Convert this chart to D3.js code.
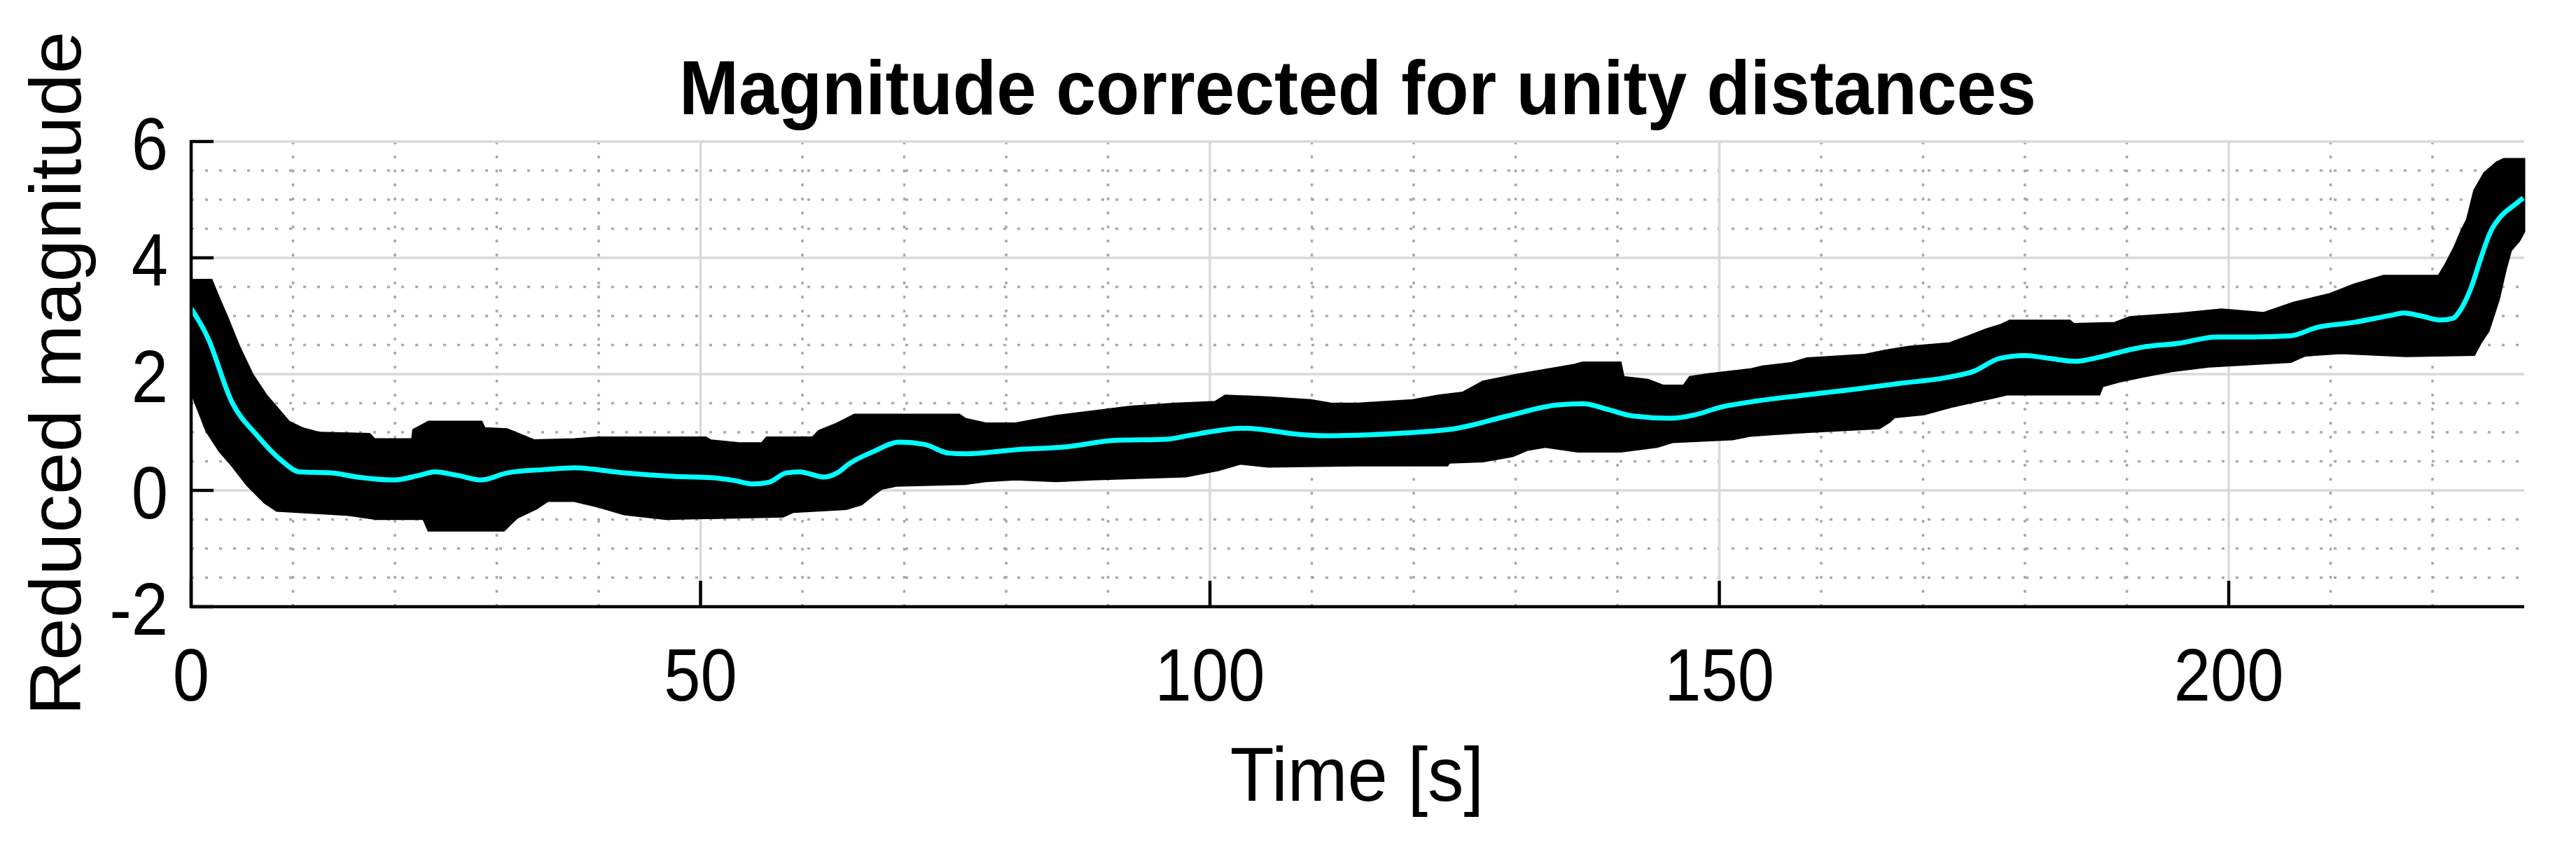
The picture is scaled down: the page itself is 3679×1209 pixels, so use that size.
<!DOCTYPE html>
<html lang="en">
  <head>
    <meta charset="UTF-8" />
    <title>Magnitude corrected for unity distances</title>
    <style>
      body { margin: 0; background: #fff; }
      svg { display: block; }
      text { font-family: "Liberation Sans", Arial, sans-serif; fill: #000; }
    </style>
  </head>
  <body>
    <svg width="3679" height="1209"></svg>
    <script src="https://d3js.org/d3.v7.min.js"></script>
    <script>
      // tick values
      const timeTicks = [0, 50, 100, 150, 200];
      const magTicks = [-2, 0, 2, 4, 6];

      // upper edge of the error bars (time [s], magnitude)
      const upperT = [0, 2.0, 2.8, 3.5, 4.7, 6.0, 7.4, 9.6, 10.9, 12.6, 17.5, 18, 21.7, 21.8, 23.3, 28.5, 28.8, 31, 33.7, 37.6,
        40, 50.5, 51, 53.8, 56, 56.5, 61, 61.6, 63.4, 65.1, 75.4, 76, 78, 80.9, 84.9, 88.5, 92.2, 96.6, 100.5, 101.5,
        105.7, 109.9, 111.9, 114.5, 119.9, 122.4, 124.8, 126.8, 130.2, 132.2, 135.8, 136.6, 140.3, 140.6, 143, 144.5, 146.5, 147.1, 149, 153,
        154.2, 157.1, 158.6, 164.2, 166.2, 168.6, 172.6, 174.3, 176.2, 177.7, 178.5, 184.4, 184.8, 188.8, 190.3, 195.1, 199.3, 203.4, 206.4, 208.1,
        209.8, 212.3, 215.2, 220.6, 221.2, 222.2, 222.8, 223.4, 224.1, 225.1, 226.3, 227.0, 229];
      const upperY = [3.62, 3.62, 3.28, 3.0, 2.48, 2.0, 1.63, 1.18, 1.07, 0.99, 0.97, 0.88, 0.88, 1.04, 1.18, 1.18, 1.07, 1.05, 0.86, 0.88,
        0.91, 0.91, 0.86, 0.81, 0.81, 0.91, 0.91, 1.02, 1.15, 1.30, 1.30, 1.23, 1.15, 1.15, 1.28, 1.36, 1.44, 1.49, 1.52, 1.63,
        1.60, 1.55, 1.49, 1.49, 1.55, 1.63, 1.68, 1.87, 1.99, 2.05, 2.16, 2.20, 2.20, 1.95, 1.90, 1.80, 1.80, 1.95, 2.0, 2.08,
        2.13, 2.19, 2.27, 2.33, 2.40, 2.47, 2.53, 2.64, 2.77, 2.85, 2.92, 2.92, 2.86, 2.88, 2.98, 3.04, 3.11, 3.05, 3.23, 3.30,
        3.37, 3.54, 3.69, 3.69, 3.86, 4.2, 4.45, 4.66, 5.16, 5.46, 5.64, 5.70, 5.70];

      // lower edge of the error bars
      const lowerT = [0, 0.2, 1.5, 2.8, 4.0, 5.5, 7.2, 8.4, 15.3, 18.2, 22.8, 23.3, 30.7, 31.5, 32, 33.9, 35, 37.6, 40, 42.5,
        46.6, 58.1, 59.1, 64.3, 65.8, 67, 67.8, 69.2, 76, 78, 80.9, 84.9, 88.5, 97.6, 100.8, 103, 105.7, 114.5, 123.3, 123.5,
        126.8, 129.7, 131.2, 132.9, 136.1, 140.3, 143.9, 145.4, 151.3, 153, 158.1, 165.7, 166.7, 167.2, 170.1, 172.8, 175.7, 177, 178.2, 187.3,
        187.6, 189.2, 191.4, 194.4, 198.0, 206.1, 207.5, 211, 217.4, 224.1, 224.7, 225.5, 226, 226.5, 227.2, 227.7, 228.5, 229];
      const lowerY = [1.9, 1.6, 1.02, 0.67, 0.43, 0.09, -0.21, -0.35, -0.42, -0.49, -0.49, -0.69, -0.69, -0.55, -0.47, -0.31, -0.18, -0.18, -0.28, -0.41,
        -0.49, -0.45, -0.37, -0.32, -0.24, -0.07, 0.03, 0.08, 0.11, 0.16, 0.19, 0.16, 0.19, 0.24, 0.35, 0.46, 0.41, 0.43, 0.43, 0.48,
        0.50, 0.59, 0.70, 0.75, 0.67, 0.67, 0.75, 0.83, 0.88, 0.94, 1.0, 1.07, 1.18, 1.26, 1.31, 1.44, 1.55, 1.60, 1.65, 1.65,
        1.79, 1.87, 1.95, 2.05, 2.13, 2.21, 2.32, 2.36, 2.31, 2.33, 2.53, 2.74, 3.01, 3.28, 3.81, 4.13, 4.29, 4.45];

      // smoothed magnitude (cyan curve)
      const smoothT = [0, 1.6, 4.0, 6.5, 8.9, 10.6, 13.8, 16.3, 19.9, 22.4, 23.9, 26.1, 28.5, 31, 34.7, 37.6, 42.5, 47.4, 51, 53.3,
        55.2, 56.7, 58.4, 59.7, 62.1, 63.4, 64.6, 67, 69.5, 72, 74.4, 76, 80.9, 85.9, 90.7, 95.7, 98.1, 100.5, 103, 105.5,
        107.9, 111.6, 114.5, 119.4, 124.3, 129.2, 134.1, 136.6, 139.1, 141.5, 145.2, 147.6, 150.1, 153, 157.9, 162.8, 167.7, 172.6, 175, 177.5,
        180, 182.4, 184.9, 187.3, 189.8, 191.4, 195.1, 198.8, 202.4, 206.1, 208.6, 212.3, 215.9, 217.2, 218.9, 220.8, 222, 222.8, 223.8, 224.7,
        225.7, 226.7, 228.2, 228.9];
      const smoothY = [3.13, 2.64, 1.52, 0.94, 0.51, 0.32, 0.30, 0.23, 0.18, 0.26, 0.32, 0.26, 0.18, 0.30, 0.36, 0.39, 0.30, 0.24, 0.22, 0.17,
        0.11, 0.14, 0.30, 0.32, 0.23, 0.30, 0.46, 0.67, 0.83, 0.79, 0.64, 0.63, 0.70, 0.75, 0.86, 0.88, 0.95, 1.02, 1.07, 1.04,
        0.98, 0.94, 0.95, 0.99, 1.07, 1.28, 1.47, 1.49, 1.39, 1.28, 1.24, 1.30, 1.43, 1.52, 1.63, 1.73, 1.84, 1.95, 2.05, 2.27,
        2.32, 2.27, 2.22, 2.29, 2.40, 2.46, 2.53, 2.64, 2.64, 2.66, 2.80, 2.89, 3.01, 3.05, 3.00, 2.93, 2.96, 3.12, 3.49, 3.97,
        4.45, 4.71, 4.93, 5.03];

      const svg = d3.select("svg");
      svg.append("rect").attr("width", 3679).attr("height", 1209).attr("fill", "#fff");

      const x = d3.scaleLinear().domain([0, 229]).range([273, 3605]);
      const y = d3.scaleLinear().domain([-2, 6]).range([866, 202]);

      // grid: minor dotted, then major solid
      const minorX = d3.range(10, 229, 10).filter((v) => v % 50 !== 0);
      const minorY = d3.range(-1.5, 6, 0.5).filter((v) => v % 2 !== 0);
      const grid = svg.append("g");
      grid.selectAll(".mx").data(minorX).enter().append("line")
        .attr("x1", (d) => x(d)).attr("x2", (d) => x(d))
        .attr("y1", y(6)).attr("y2", y(-2))
        .attr("stroke", "#aaaaaa").attr("stroke-width", 3.5)
        .attr("stroke-dasharray", "4 16");
      grid.selectAll(".my").data(minorY).enter().append("line")
        .attr("x1", x(0)).attr("x2", x(229))
        .attr("y1", (d) => y(d)).attr("y2", (d) => y(d))
        .attr("stroke", "#aaaaaa").attr("stroke-width", 3.5)
        .attr("stroke-dasharray", "4 16");
      grid.selectAll(".gx").data(timeTicks.slice(1)).enter().append("line")
        .attr("x1", (d) => x(d)).attr("x2", (d) => x(d))
        .attr("y1", y(6)).attr("y2", y(-2))
        .attr("stroke", "#d9d9d9").attr("stroke-width", 3.5);
      grid.selectAll(".gy").data(magTicks.slice(1)).enter().append("line")
        .attr("x1", x(0)).attr("x2", x(229))
        .attr("y1", (d) => y(d)).attr("y2", (d) => y(d))
        .attr("stroke", "#d9d9d9").attr("stroke-width", 3.5);

      // error band
      const upper = upperT.map((t, i) => [t, upperY[i]]);
      const lower = lowerT.map((t, i) => [t, lowerY[i]]);
      const poly = d3.line().x((d) => x(d[0])).y((d) => y(d[1]));
      svg.append("path")
        .attr("d", poly(upper.concat(lower.slice().reverse())) + "Z")
        .attr("fill", "#000")
        .attr("stroke", "#000")
        .attr("stroke-width", 3);

      // smoothed curve
      const smooth = smoothT.map((t, i) => [t, smoothY[i]]);
      svg.append("path")
        .attr("d", d3.line().curve(d3.curveMonotoneX).x((d) => x(d[0])).y((d) => y(d[1]))(smooth))
        .attr("fill", "none")
        .attr("stroke", "#00ffff")
        .attr("stroke-width", 7);

      // axes lines and inward ticks
      const ax = svg.append("g").attr("stroke", "#000").attr("stroke-width", 4.5);
      ax.append("line").attr("x1", x(0)).attr("x2", x(0)).attr("y1", y(6) - 2).attr("y2", y(-2) + 2);
      ax.append("line").attr("x1", x(0) - 2).attr("x2", x(229)).attr("y1", y(-2)).attr("y2", y(-2));
      ax.selectAll(".ty").data(magTicks).enter().append("line")
        .attr("x1", x(0)).attr("x2", x(0) + 32)
        .attr("y1", (d) => y(d)).attr("y2", (d) => y(d));
      ax.selectAll(".tx").data(timeTicks).enter().append("line")
        .attr("x1", (d) => x(d)).attr("x2", (d) => x(d))
        .attr("y1", y(-2)).attr("y2", y(-2) - 37);

      // tick labels
      svg.selectAll(".lx").data(timeTicks).enter().append("text")
        .attr("transform", (d) => "translate(" + x(d) + ",1000) scale(1,1.12)")
        .attr("text-anchor", "middle")
        .attr("font-size", 94)
        .text((d) => d);
      svg.selectAll(".ly").data(magTicks).enter().append("text")
        .attr("transform", (d) => "translate(240," + (y(d) + 40) + ") scale(1,1.12)")
        .attr("text-anchor", "end")
        .attr("font-size", 94)
        .text((d) => d);

      // titles
      svg.append("text")
        .attr("transform", "translate(1939,163) scale(1,1.08)")
        .attr("text-anchor", "middle")
        .attr("font-size", 102)
        .attr("font-weight", "bold")
        .text("Magnitude corrected for unity distances");
      svg.append("text")
        .attr("transform", "translate(1938,1143) scale(1,1.06)")
        .attr("text-anchor", "middle")
        .attr("font-size", 103)
        .text("Time [s]");
      svg.append("text")
        .attr("transform", "translate(115,533) rotate(-90) scale(1.06,1)")
        .attr("text-anchor", "middle")
        .attr("font-size", 103)
        .text("Reduced magnitude");
    </script>
  </body>
</html>
